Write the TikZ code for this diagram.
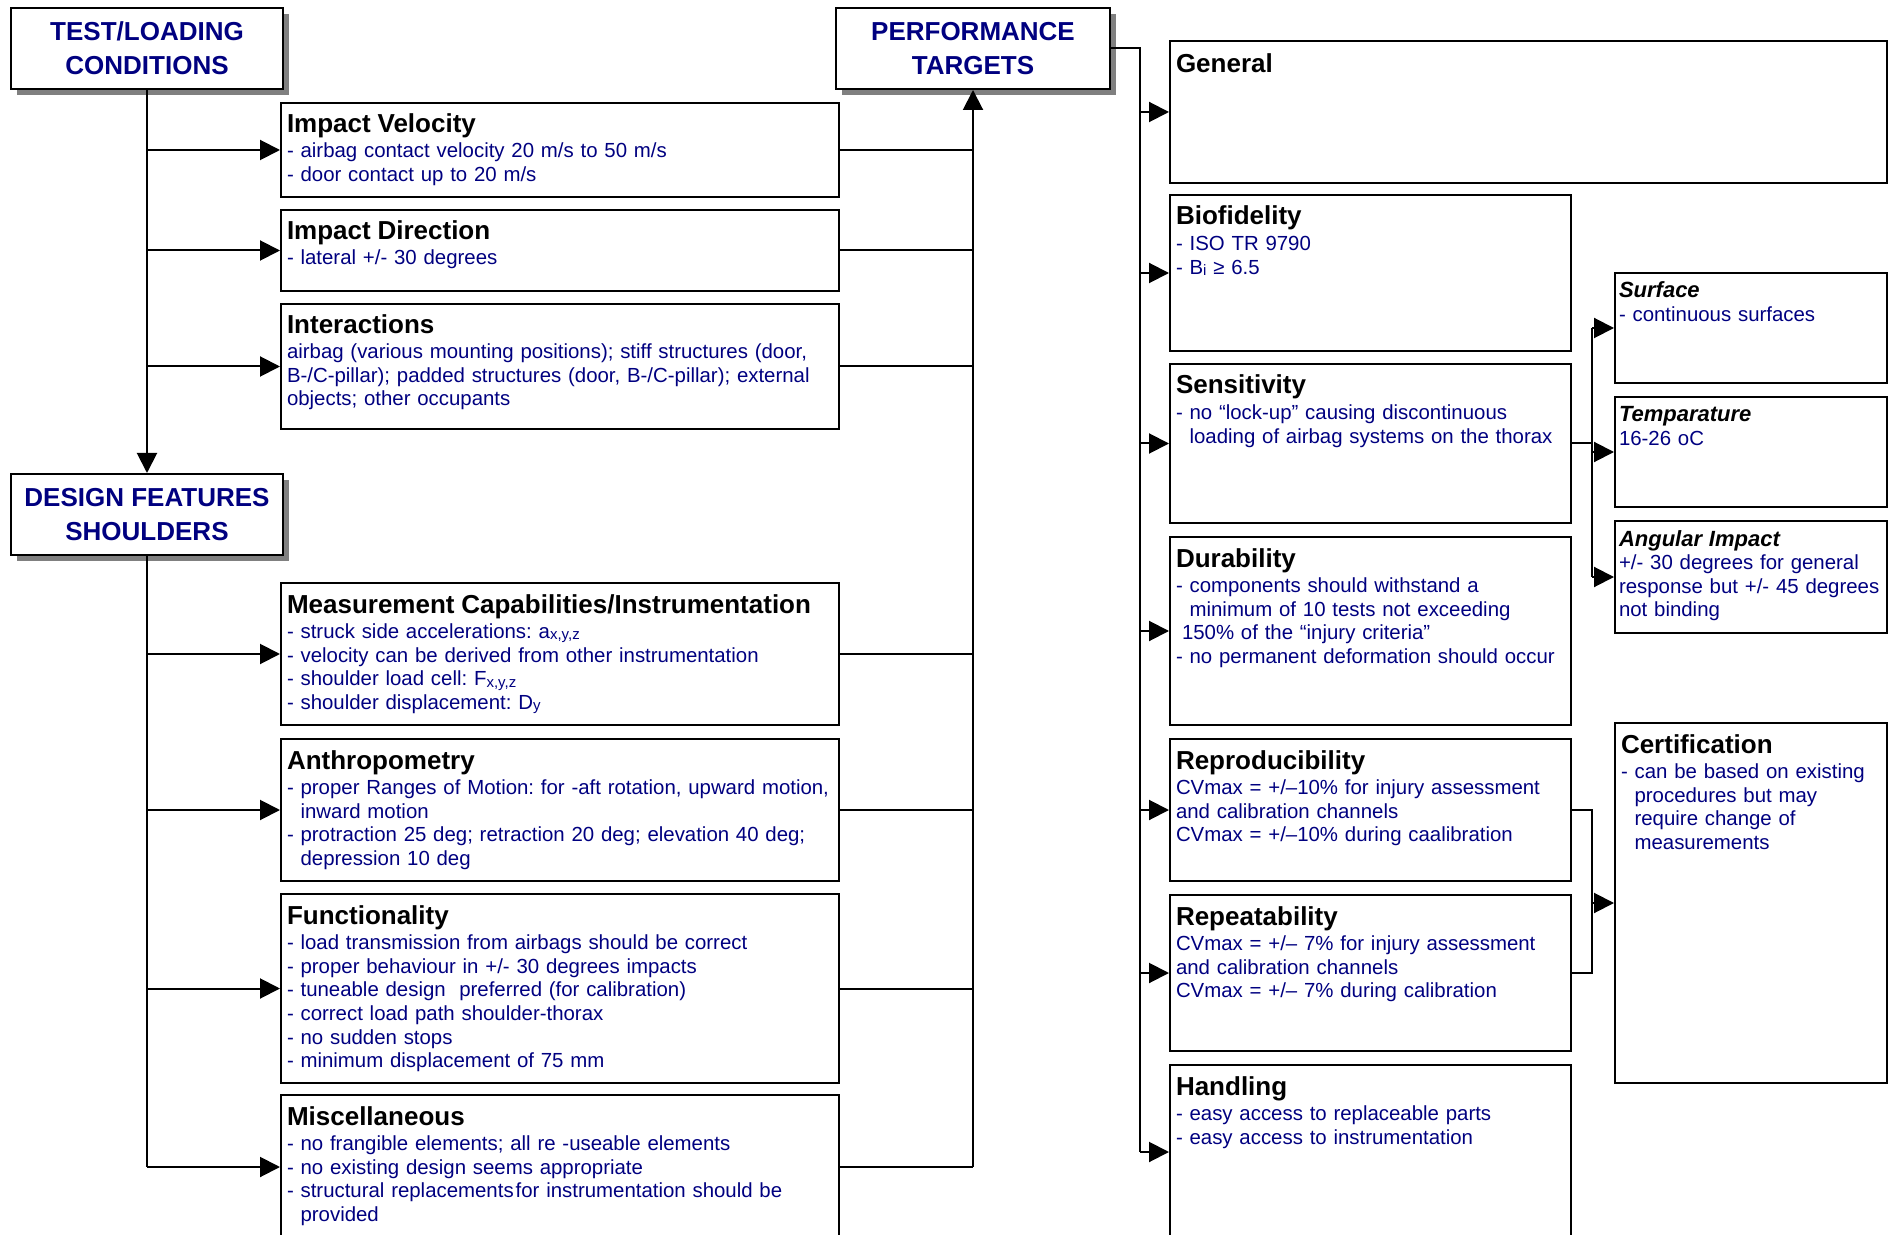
\documentclass[tikz,border=0pt]{standalone}
\usepackage{fontspec}
\setmainfont{Liberation Sans}
\usepackage{xcolor}
\usepackage{tikz}
\usetikzlibrary{arrows.meta,shadows}

\definecolor{navy}{RGB}{0,0,128}
\newcommand{\hd}[1]{{\color{black}\fontsize{13}{14}\selectfont\bfseries #1}}
\newcommand{\sh}[1]{{\color{black}\fontsize{11}{12}\selectfont\bfseries\itshape #1}}
\newcommand{\ind}{\hphantom{-\ }}
\newcommand{\lowidx}[1]{\raisebox{-0.6pt}{\fontsize{7.5}{8}\selectfont #1}}
\frenchspacing
\hyphenpenalty=10000
\exhyphenpenalty=10000

\begin{document}
\begin{tikzpicture}[x=0.5pt,y=-0.5pt,
	head/.style={draw,line width=1pt,fill=white,anchor=north west,inner sep=0pt,
		minimum height=40.5pt,align=center,text=navy,
		font=\fontsize{13}{17}\selectfont\bfseries,
		drop shadow={shadow xshift=3pt,shadow yshift=-3pt,fill=gray,opacity=1}},
	box/.style={draw,line width=1pt,anchor=north west,inner xsep=3pt,inner ysep=0pt,
		align=left,text=navy,font=\fontsize{10.2}{11.8}\selectfont},
	wide/.style={box,text width=273pt},
	mid/.style={box,text width=194.5pt,text height=15pt},
	small/.style={box,inner xsep=2pt,text width=132pt,text height=12.5pt},
	con/.style={line width=1pt},
	arr/.style={con,-{Triangle[length=10pt,width=10pt]}}]
\useasboundingbox (0,0) rectangle (1890,1235);

	% headings
	\node[head,minimum width=136pt] at (10,7) (test) {TEST/LOADING\\CONDITIONS};
	\node[head,minimum width=136pt] at (10,473) (design) {DESIGN FEATURES\\SHOULDERS};
	\node[head,minimum width=137pt] at (835,7) (perf) {PERFORMANCE\\TARGETS};

	% test / loading conditions
	\node[wide,text height=15pt,text depth=32pt] at (280,102) (vel) {\hd{Impact Velocity}\\[0.5pt]
		- airbag contact velocity 20 m/s to 50 m/s\\
		- door contact up to 20 m/s};
	\node[wide,text height=15pt,text depth=25.5pt] at (280,209) (dir) {\hd{Impact Direction}\\[0.5pt]
		- lateral +/- 30 degrees};
	\node[wide,text height=15pt,text depth=47.5pt] at (280,303) (inter) {\hd{Interactions}\\[0.5pt]
		airbag (various mounting positions); stiff structures (door,\\
		B-/C-pillar); padded structures (door, B-/C-pillar); external\\
		objects; other occupants};

	% design features
	\node[wide,text height=15pt,text depth=56pt] at (280,582) (meas) {\hd{Measurement Capabilities/Instrumentation}\\[1pt]
		- struck side accelerations: a\lowidx{x,y,z}\\
		- velocity can be derived from other instrumentation\\
		- shoulder load cell: F\lowidx{x,y,z}\\
		- shoulder displacement: D\lowidx{y}};
	\node[wide,text height=15pt,text depth=56pt] at (280,738) (anth) {\hd{Anthropometry}\\[1pt]
		- proper Ranges of Motion: for -aft rotation, upward motion,\\
		\ind inward motion\\
		- protraction 25 deg; retraction 20 deg; elevation 40 deg;\\
		\ind depression 10 deg};
	\node[wide,text height=15pt,text depth=79.5pt] at (280,893) (func) {\hd{Functionality}\\[1pt]
		- load transmission from airbags should be correct\\
		- proper behaviour in +/- 30 degrees impacts\\
		- tuneable design\ \ preferred (for calibration)\\
		- correct load path shoulder-thorax\\
		- no sudden stops\\
		- minimum displacement of 75 mm};
	\node[wide,text height=15pt,text depth=57pt] at (280,1094) (misc) {\hd{Miscellaneous}\\[1pt]
		- no frangible elements; all re -useable elements\\
		- no existing design seems appropriate\\
		- structural replacements\hspace{1pt}for instrumentation should be\\
		\ind provided};

	% performance targets
	\node[box,text width=352.5pt,text height=16pt,text depth=55pt] at (1169,40) (gen) {\hd{General}};
	\node[mid,text depth=63pt] at (1169,194) (bio) {\hd{Biofidelity}\\[1pt]
		- ISO TR 9790\\
		- B\lowidx{i} ≥ 6.5};
	\node[mid,text depth=64.5pt] at (1169,363) (sens) {\hd{Sensitivity}\\[1pt]
		- no “lock-up” causing discontinuous\\
		\ind loading of airbag systems on the thorax};
	\node[mid,text depth=79pt] at (1169,536) (dura) {\hd{Durability}\\[1pt]
		- components should withstand a\\
		\ind minimum of 10 tests not exceeding\\
		\hspace*{3pt}150\% of the “injury criteria”\\
		- no permanent deformation should occur};
	\node[mid,text depth=56pt] at (1169,738) (repro) {\hd{Reproducibility}\\[1pt]
		CVmax = +/–10\% for injury assessment\\
		and calibration channels\\
		CVmax = +/–10\% during caalibration};
	\node[mid,text depth=63pt] at (1169,894) (rept) {\hd{Repeatability}\\[1pt]
		CVmax = +/– 7\% for injury assessment\\
		and calibration channels\\
		CVmax = +/– 7\% during calibration};
	\node[mid,text depth=72pt] at (1169,1064) (handl) {\hd{Handling}\\[1pt]
		- easy access to replaceable parts\\
		- easy access to instrumentation};

	% sub targets
	\node[small,text depth=42.5pt] at (1614,272) (surf) {\sh{Surface}\\
		- continuous surfaces};
	\node[small,text depth=42.5pt] at (1614,396) (temp) {\sh{Temparature}\\
		16-26 oC};
	\node[small,text depth=43.5pt] at (1614,520) (ang) {\sh{Angular Impact}\\
		+/- 30 degrees for general\\
		response but +/- 45 degrees\\
		not binding};
	\node[small,inner xsep=3pt,text width=130pt,text height=15pt,text depth=165pt] at (1614,722) (cert) {\hd{Certification}\\[1pt]
		- can be based on existing\\
		\ind procedures but may\\
		\ind require change of\\
		\ind measurements};

	% test/loading conditions -> design features
	\draw[arr] (test.south) -- (design.north);
	\draw[arr] (test.south |- vel.west) -- (vel.west);
	\draw[arr] (test.south |- dir.west) -- (dir.west);
	\draw[arr] (test.south |- inter.west) -- (inter.west);

	\draw[con] (design.south) -- (design.south |- misc.west);
	\draw[arr] (design.south |- meas.west) -- (meas.west);
	\draw[arr] (design.south |- anth.west) -- (anth.west);
	\draw[arr] (design.south |- func.west) -- (func.west);
	\draw[arr] (design.south |- misc.west) -- (misc.west);

	% everything feeds the performance targets
	\draw[con] (vel.east) -- (perf.south |- vel.east);
	\draw[con] (dir.east) -- (perf.south |- dir.east);
	\draw[con] (inter.east) -- (perf.south |- inter.east);
	\draw[con] (meas.east) -- (perf.south |- meas.east);
	\draw[con] (anth.east) -- (perf.south |- anth.east);
	\draw[con] (func.east) -- (perf.south |- func.east);
	\draw[con] (misc.east) -- (perf.south |- misc.east);
	\draw[arr] (perf.south |- misc.east) -- (perf.south);

	\coordinate (pj) at ([xshift=14.5pt]perf.east);
	\draw[con] (perf.east) -- (pj) -- (pj |- handl.west);
	\draw[arr] (pj |- gen.west) -- (gen.west);
	\draw[arr] (pj |- bio.west) -- (bio.west);
	\draw[arr] (pj |- sens.west) -- (sens.west);
	\draw[arr] (pj |- dura.west) -- (dura.west);
	\draw[arr] (pj |- repro.west) -- (repro.west);
	\draw[arr] (pj |- rept.west) -- (rept.west);
	\draw[arr] (pj |- handl.west) -- (handl.west);

	\coordinate (sj) at ([xshift=10pt]sens.east);
	\draw[con] (sens.east) -- (sj);
	\draw[con] (sj |- surf.west) -- (sj |- ang.west);
	\draw[arr] (sj |- surf.west) -- (surf.west);
	\draw[arr] (sj |- temp.west) -- (temp.west);
	\draw[arr] (sj |- ang.west) -- (ang.west);

	\coordinate (rj) at ([xshift=10pt]repro.east);
	\draw[con] (repro.east) -- (rj) -- (rj |- rept.east) -- (rept.east);
	\draw[arr] (rj |- cert.west) -- (cert.west);
\end{tikzpicture}
\end{document}
